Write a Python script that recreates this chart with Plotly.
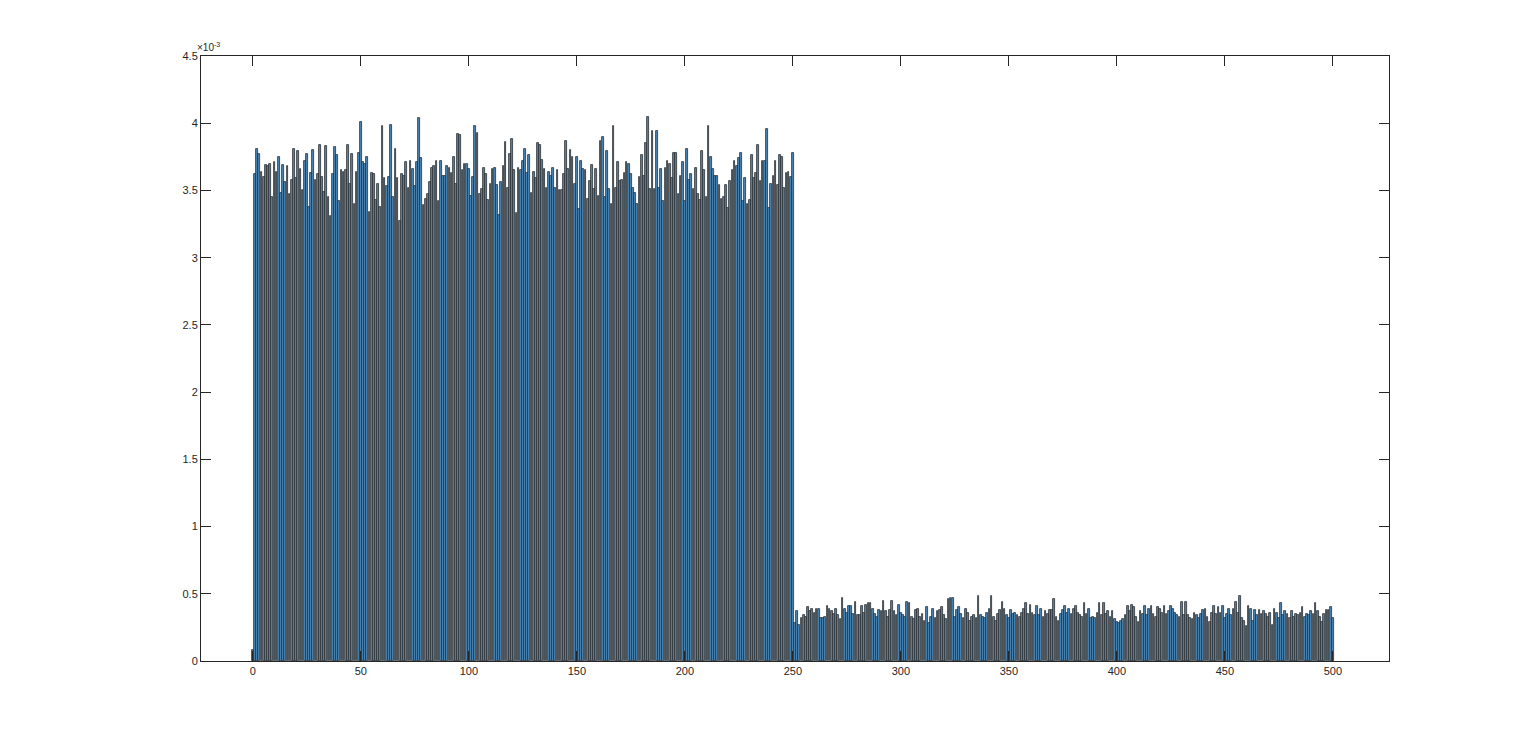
import plotly.graph_objects as go

# bar heights, in units of 1e-3 (index 0..500)
first = [0.08]

high = [
    3.62, 3.81, 3.77, 3.64, 3.60, 3.69, 3.68, 3.70, 3.45, 3.71,
    3.64, 3.75, 3.48, 3.69, 3.56, 3.68, 3.47, 3.58, 3.81, 3.59,
    3.79, 3.66, 3.50, 3.72, 3.77, 3.38, 3.63, 3.80, 3.58, 3.62,
    3.84, 3.60, 3.49, 3.83, 3.45, 3.31, 3.62, 3.82, 3.76, 3.42,
    3.65, 3.64, 3.65, 3.84, 3.55, 3.77, 3.40, 3.64, 3.78, 4.01,
    3.71, 3.70, 3.75, 3.34, 3.63, 3.62, 3.43, 3.55, 3.38, 3.98,
    3.59, 3.53, 3.60, 3.99, 3.45, 3.81, 3.59, 3.27, 3.62, 3.61,
    3.71, 3.52, 3.72, 3.66, 3.53, 3.71, 4.04, 3.74, 3.39, 3.44,
    3.47, 3.56, 3.67, 3.68, 3.72, 3.42, 3.72, 3.61, 3.61, 3.68,
    3.67, 3.63, 3.75, 3.55, 3.92, 3.91, 3.65, 3.70, 3.70, 3.66,
    3.46, 3.60, 3.98, 3.93, 3.47, 3.51, 3.67, 3.62, 3.43, 3.55,
    3.66, 3.67, 3.54, 3.32, 3.56, 3.68, 3.86, 3.52, 3.77, 3.88,
    3.65, 3.33, 3.67, 3.65, 3.72, 3.81, 3.63, 3.76, 3.48, 3.64,
    3.59, 3.85, 3.84, 3.73, 3.66, 3.52, 3.64, 3.61, 3.67, 3.52,
    3.65, 3.50, 3.50, 3.62, 3.87, 3.66, 3.80, 3.75, 3.55, 3.75,
    3.36, 3.72, 3.66, 3.65, 3.44, 3.57, 3.69, 3.51, 3.66, 3.46,
    3.87, 3.90, 3.45, 3.79, 3.51, 3.40, 3.98, 3.52, 3.71, 3.57,
    3.58, 3.63, 3.71, 3.70, 3.62, 3.52, 3.48, 3.40, 3.60, 3.76,
    3.61, 3.85, 4.05, 3.51, 3.94, 3.51, 3.94, 3.52, 3.66, 3.42,
    3.67, 3.72, 3.70, 3.59, 3.78, 3.78, 3.47, 3.61, 3.71, 3.42,
    3.81, 3.58, 3.62, 3.51, 3.67, 3.47, 3.43, 3.79, 3.65, 3.45,
    3.98, 3.75, 3.66, 3.61, 3.61, 3.54, 3.44, 3.45, 3.54, 3.37,
    3.57, 3.65, 3.72, 3.68, 3.74, 3.78, 3.42, 3.59, 3.40, 3.43,
    3.76, 3.59, 3.63, 3.84, 3.57, 3.72, 3.72, 3.96, 3.37, 3.55,
    3.61, 3.72, 3.54, 3.76, 3.75, 3.52, 3.63, 3.64, 3.60, 3.78,
]

low = [
    0.28, 0.37, 0.27, 0.32, 0.34, 0.33, 0.40, 0.37, 0.39, 0.36,
    0.39, 0.39, 0.32, 0.32, 0.33, 0.41, 0.39, 0.37, 0.35, 0.39,
    0.34, 0.31, 0.47, 0.39, 0.36, 0.41, 0.41, 0.35, 0.44, 0.34,
    0.34, 0.41, 0.36, 0.42, 0.43, 0.43, 0.39, 0.35, 0.33, 0.38,
    0.37, 0.45, 0.37, 0.33, 0.38, 0.45, 0.37, 0.34, 0.42, 0.36,
    0.34, 0.33, 0.44, 0.43, 0.33, 0.31, 0.38, 0.39, 0.33, 0.35,
    0.30, 0.40, 0.28, 0.33, 0.39, 0.32, 0.37, 0.38, 0.40, 0.34,
    0.31, 0.46, 0.47, 0.47, 0.33, 0.38, 0.40, 0.35, 0.32, 0.39,
    0.36, 0.30, 0.33, 0.34, 0.32, 0.48, 0.34, 0.33, 0.32, 0.36,
    0.39, 0.48, 0.33, 0.30, 0.35, 0.38, 0.44, 0.39, 0.34, 0.32,
    0.38, 0.35, 0.36, 0.34, 0.33, 0.36, 0.39, 0.43, 0.35, 0.42,
    0.36, 0.34, 0.41, 0.34, 0.39, 0.33, 0.37, 0.35, 0.38, 0.38,
    0.46, 0.33, 0.30, 0.35, 0.38, 0.41, 0.36, 0.39, 0.35, 0.39,
    0.41, 0.36, 0.34, 0.33, 0.43, 0.35, 0.39, 0.32, 0.33, 0.32,
    0.36, 0.43, 0.34, 0.43, 0.35, 0.37, 0.33, 0.37, 0.31, 0.29,
    0.28, 0.30, 0.31, 0.34, 0.41, 0.37, 0.42, 0.40, 0.33, 0.29,
    0.37, 0.35, 0.41, 0.34, 0.39, 0.41, 0.35, 0.33, 0.40, 0.39,
    0.36, 0.41, 0.35, 0.37, 0.41, 0.39, 0.36, 0.34, 0.33, 0.44,
    0.34, 0.44, 0.34, 0.32, 0.31, 0.36, 0.34, 0.32, 0.35, 0.38,
    0.39, 0.33, 0.29, 0.36, 0.41, 0.35, 0.40, 0.36, 0.41, 0.32,
    0.35, 0.39, 0.34, 0.39, 0.44, 0.36, 0.48, 0.32, 0.30, 0.26,
    0.41, 0.39, 0.30, 0.38, 0.34, 0.38, 0.35, 0.37, 0.35, 0.33,
    0.36, 0.27, 0.39, 0.36, 0.32, 0.43, 0.34, 0.37, 0.35, 0.32,
    0.37, 0.33, 0.35, 0.34, 0.36, 0.40, 0.33, 0.35, 0.34, 0.37,
    0.35, 0.43, 0.37, 0.33, 0.29, 0.35, 0.38, 0.38, 0.40, 0.32,
]

values = first + high + low
index = list(range(len(values)))

ink = "#262626"
axis_font = dict(family="Liberation Sans, Arial, sans-serif", size=11, color=ink)

fig = go.Figure(go.Bar(
    x=index,
    y=values,
    width=0.8,
    marker=dict(color="#4a86b8", line=dict(color="#2e2e2e", width=0.8)),
    hoverinfo="x+y",
))

fig.update_xaxes(
    range=[-24, 526], tickmode="linear", tick0=0, dtick=50,
    ticks="inside", ticklen=10, tickcolor=ink, tickwidth=1,
    showline=True, linecolor=ink, linewidth=1, mirror="ticks",
    showgrid=False, zeroline=False, tickfont=axis_font,
)
fig.update_yaxes(
    range=[0, 4.5], tickmode="linear", tick0=0, dtick=0.5,
    ticks="inside", ticklen=10, tickcolor=ink, tickwidth=1,
    showline=True, linecolor=ink, linewidth=1, mirror="ticks",
    showgrid=False, zeroline=False, tickfont=axis_font,
)

fig.add_annotation(
    xref="paper", yref="paper", x=0, y=1, xanchor="left", yanchor="bottom",
    xshift=-6, yshift=1, showarrow=False,
    text="\u00d710<sup>-3</sup>", font=dict(family="Liberation Sans, Arial, sans-serif", size=10, color=ink),
)

fig.update_layout(
    width=1536, height=744,
    margin=dict(l=193, r=155, t=48, b=91),
    paper_bgcolor="white", plot_bgcolor="white",
    showlegend=False, bargap=0,
)

fig.write_html("out.html")
